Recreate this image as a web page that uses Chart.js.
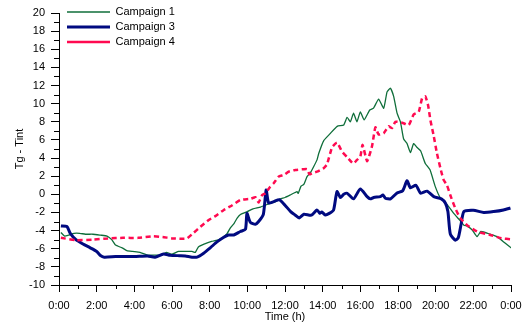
<!DOCTYPE html>
<html>
<head>
<meta charset="utf-8">
<script src="https://cdn.jsdelivr.net/npm/chart.js@4"></script>
<style>
  html, body { margin: 0; padding: 0; background: #fff; }
  #wrap { width: 523px; height: 324px; }
</style>
</head>
<body>
<div id="wrap"><canvas id="c" width="523" height="324"></canvas></div>
<script>
// Hour of day for each reading, and the difference Tg - Tint, per campaign
const t1 = [0.1,0.3,0.5,0.8,1.1,1.4,1.8,2.2,2.55,2.8,3.0,3.35,3.6,3.9,4.3,4.7,5.0,5.4,5.7,6.0,6.35,6.7,7.06,7.24,7.4,7.7,8.1,8.5,8.9,9.1,9.3,9.45,9.65,10.0,10.3,10.7,11.2,11.5,11.75,12.0,12.3,12.64,12.7,12.85,13.0,13.17,13.35,13.52,13.7,13.79,14.05,14.4,14.77,15.12,15.3,15.47,15.64,15.82,16.0,16.2,16.5,16.7,16.97,17.24,17.42,17.6,17.77,17.95,18.13,18.3,18.48,18.66,18.83,19.0,19.2,19.45,19.7,19.98,20.25,20.6,20.96,21.3,21.5,21.67,21.93,22.2,22.4,22.9,23.26,23.7,24.1];
const campaign1 = [-4.2,-4.6,-4.5,-4.3,-4.3,-4.4,-4.4,-4.5,-4.6,-5.0,-5.6,-5.9,-6.2,-6.3,-6.4,-6.7,-6.7,-6.7,-6.4,-6.6,-6.3,-6.3,-6.3,-6.4,-5.8,-5.5,-5.2,-5.0,-4.4,-3.7,-3.2,-2.65,-2.2,-1.9,-1.6,-1.4,-1.0,-0.8,-0.5,-0.35,-0.05,0.3,0.1,0.9,1.1,1.95,2.4,3.05,3.8,4.5,5.9,6.7,7.5,7.65,8.5,8.0,8.95,8.0,9.1,8.2,9.3,9.5,10.5,9.5,11.3,11.7,10.8,8.95,8.0,6.1,5.6,4.6,5.6,5.2,4.8,3.4,2.7,0.85,-0.4,-1.1,-2.1,-2.9,-3.4,-3.5,-3.9,-4.66,-4.1,-4.4,-4.66,-5.4,-6.05];

const t3 = [0.1,0.42,0.6,0.9,1.25,1.66,2.0,2.2,2.4,3.0,3.5,4.0,4.7,5.1,5.55,5.9,6.4,6.7,7.06,7.33,7.68,8.03,8.39,8.75,9.0,9.28,9.63,9.9,9.98,10.16,10.43,10.6,10.85,11.0,11.13,11.4,11.7,12.0,12.3,12.55,12.75,13.0,13.4,13.7,13.85,13.95,14.14,14.35,14.58,14.76,14.94,15.12,15.3,15.64,16.0,16.36,16.53,16.71,17.06,17.2,17.33,17.6,17.95,18.25,18.48,18.66,18.95,19.2,19.54,19.9,20.3,20.52,20.65,20.78,21.04,21.2,21.35,21.5,22.0,22.55,23.08,23.6,23.97];
const campaign3 = [-3.48,-3.55,-4.3,-5.0,-5.45,-5.9,-6.3,-6.75,-6.93,-6.87,-6.85,-6.87,-6.8,-6.93,-6.57,-6.72,-6.77,-6.8,-6.93,-6.93,-6.5,-5.9,-5.25,-4.73,-4.48,-4.48,-4.1,-3.85,-2.1,-3.1,-3.3,-3.0,-2.2,0.48,-0.95,-0.8,-0.6,-1.2,-1.9,-2.3,-2.6,-2.2,-2.3,-1.72,-2.1,-1.95,-2.27,-2.1,-1.72,0.3,-0.35,0.0,0.12,-0.5,0.6,-0.25,-0.5,-0.35,-0.25,-0.07,-0.43,-0.5,0.15,0.4,1.5,0.72,1.0,0.12,0.35,-0.25,-0.5,-0.98,-1.9,-4.4,-5.05,-4.8,-3.3,-1.9,-1.75,-2.0,-1.9,-1.72,-1.5];

const t4 = [0.1,0.9,1.8,2.6,3.4,4.2,5.0,5.5,6.0,6.5,6.8,7.15,7.5,7.95,8.3,8.75,9.2,9.63,10.16,10.43,10.6,10.78,10.96,11.22,11.4,11.66,11.94,12.2,12.55,12.99,13.17,13.3,13.44,13.7,13.88,14.05,14.23,14.5,14.76,15.03,15.3,15.62,15.82,16.0,16.12,16.36,16.62,16.8,16.97,17.24,17.5,17.68,17.86,18.22,18.57,18.83,19.1,19.28,19.45,19.6,19.72,19.9,20.07,20.25,20.42,20.6,20.78,21.04,21.3,21.67,22.2,22.9,23.5,24.0];
const campaign4 = [-4.8,-5.05,-5.0,-4.86,-4.8,-4.8,-4.63,-4.7,-4.86,-4.9,-4.86,-4.24,-3.6,-2.83,-2.4,-1.72,-1.2,-0.62,-0.5,-0.32,-0.9,-0.1,0.12,0.85,1.22,1.95,2.14,2.5,2.69,2.77,2.77,2.2,2.33,2.5,2.69,2.88,3.3,5.19,5.7,4.71,4.1,3.4,3.79,4.16,5.45,3.65,5.3,7.4,6.6,6.74,7.5,7.3,8.0,7.9,7.65,8.8,9.1,10.6,10.8,9.8,8.2,6.4,4.5,2.9,1.6,1.0,-0.1,-1.53,-2.6,-3.4,-4.1,-4.48,-4.85,-4.95];

const seriesNames = ['Campaign 1', 'Campaign 3', 'Campaign 4'];
const xTickLabels = ['0:00','2:00','4:00','6:00','8:00','10:00','12:00','14:00','16:00','18:00','20:00','22:00','0:00'];

const toPoints = (ts, vs) => ts.map((t, i) => ({ x: t, y: vs[i] }));

// Short unlabelled ticks between the labelled ones
const minorTicks = {
  id: 'minorTicks',
  afterDraw(chart) {
    const { ctx } = chart;
    const xs = chart.scales.x, ys = chart.scales.y;
    ctx.save();
    ctx.strokeStyle = '#000';
    ctx.lineWidth = 1;
    ctx.beginPath();
    for (let h = 1; h < 24; h += 2) {
      const px = Math.round(xs.getPixelForValue(h)) + 0.5;
      ctx.moveTo(px, xs.top);
      ctx.lineTo(px, xs.top + 4);
    }
    for (let v = -9; v < 20; v += 2) {
      const py = Math.round(ys.getPixelForValue(v)) + 0.5;
      ctx.moveTo(ys.right - 5, py);
      ctx.lineTo(ys.right, py);
    }
    ctx.stroke();
    ctx.restore();
  }
};

// Nudge the in-plot legend a little away from the axes
const legendInset = {
  id: 'legendInset',
  afterLayout(chart) {
    if (chart.legend) {
      chart.legend.left += 4;
      chart.legend.top += 2.5;
    }
  }
};

const font = { family: "'Liberation Sans', Arial, sans-serif", size: 11 };

new Chart(document.getElementById('c'), {
  type: 'line',
  data: {
    datasets: [
      {
        label: seriesNames[0],
        data: toPoints(t1, campaign1),
        borderColor: '#0f6e3a',
        borderWidth: 1.3,
        pointRadius: 0,
        tension: 0.15,
        order: 2
      },
      {
        label: seriesNames[1],
        data: toPoints(t3, campaign3),
        borderColor: '#000a80',
        borderWidth: 3,
        pointRadius: 0,
        tension: 0.2,
        order: 1
      },
      {
        label: seriesNames[2],
        data: toPoints(t4, campaign4),
        borderColor: '#ff0a50',
        borderWidth: 2.5,
        borderDash: [5, 3.5],
        pointRadius: 0,
        tension: 0.15,
        order: 0
      }
    ]
  },
  options: {
    responsive: false,
    animation: false,
    layout: { padding: { left: 0, right: 12, top: 13, bottom: 0 } },
    plugins: {
      legend: {
        position: 'chartArea',
        align: 'start',
        labels: {
          usePointStyle: true,
          pointStyle: 'line',
          pointStyleWidth: 43,
          padding: 4,
          color: '#000',
          font: font,
          sort: (a, b) => a.datasetIndex - b.datasetIndex
        }
      },
      tooltip: { enabled: false }
    },
    scales: {
      x: {
        type: 'linear',
        min: 0,
        max: 24,
        border: { display: true, color: '#000', width: 1 },
        grid: { drawOnChartArea: false, drawTicks: true, tickLength: 7, color: '#000' },
        ticks: {
          stepSize: 2,
          padding: 7,
          color: '#000',
          font: font,
          maxRotation: 0,
          callback: (v) => xTickLabels[Math.round(v / 2)]
        },
        title: { display: true, text: 'Time (h)', color: '#000', font: font, padding: { top: 0, bottom: 0 } },
        afterFit: (s) => { s.height = 39; s.paddingLeft = 0; s.paddingRight = 0; }
      },
      y: {
        min: -10,
        max: 20,
        border: { display: true, color: '#000', width: 1 },
        grid: { drawOnChartArea: false, drawTicks: true, tickLength: 8, color: '#000' },
        ticks: { stepSize: 2, padding: 6, color: '#000', font: font },
        title: { display: true, text: 'Tg - Tint', color: '#000', font: font, padding: { top: 13, bottom: 0 } },
        afterFit: (s) => { s.width = 59; s.paddingTop = 0; s.paddingBottom = 0; }
      }
    }
  },
  plugins: [minorTicks, legendInset]
});
</script>
</body>
</html>
